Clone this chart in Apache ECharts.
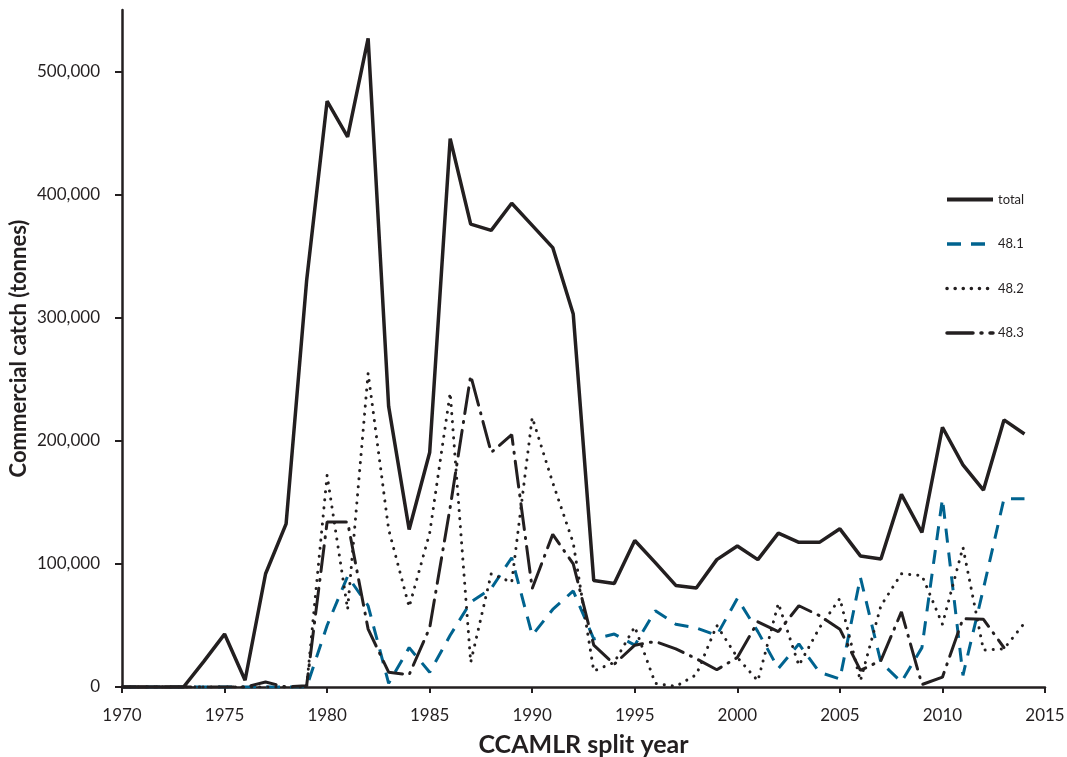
<!DOCTYPE html>
<html lang="en">
<head>
  <meta charset="UTF-8">
  <title>Commercial krill catch by subarea</title>
  <script src="https://cdn.jsdelivr.net/npm/echarts@6/dist/echarts.min.js"></script>
  <style>
    * { padding: 0; margin: 0; }
    html, body { background: #fff; }
  </style>
</head>
<body>
<div id="main" style="width:1067px;height:757px;"></div>
<script>
  // split years 1970 .. 2014
  var years = [];
  for (var y = 1970; y <= 2014; y++) years.push(y);

  var total = [0, 0, 0, 0, 21000, 43000, 5500, 92000, 132500, 330000,
    476000, 447000, 527000, 228000, 128000, 190500, 445500, 376000, 371000, 393000,
    375000, 357000, 303000, 86500, 84000, 119000, 101000, 82500, 80500, 103500,
    114500, 103500, 125000, 117500, 117500, 128500, 106500, 104000, 156500, 125500,
    211000, 180500, 160000, 217000, 205500];

  var sub481 = [0, 0, 0, 0, 0, 0, 0, 0, 0, 0,
    50000, 90000, 66000, 3000, 32000, 12000, 42000, 69000, 80000, 105000,
    42000, 63000, 78000, 39000, 43000, 34000, 62000, 51000, 48000, 42000,
    72000, 45000, 15000, 35000, 12000, 6500, 89000, 20000, 4000, 32000,
    153000, 9500, 80000, 153000, 153000];

  var sub482 = [0, 0, 0, 0, 0, 0, 0, 0, 0, 0,
    172000, 63000, 255000, 128000, 65000, 125000, 239000, 20000, 92000, 85000,
    219000, 166000, 117000, 13000, 20000, 49000, 3000, 500, 10000, 50000,
    24000, 5000, 68000, 17500, 48000, 72000, 5000, 66000, 92000, 90500,
    51000, 113500, 30000, 31000, 52000];

  var sub483 = [0, 0, 0, 0, 0, 0, 0, 4000, 0, 1000,
    134000, 134000, 47000, 12000, 10000, 48000, 146000, 253000, 190500, 205000,
    80000, 124000, 100000, 34000, 18500, 34000, 37000, 31000, 23000, 14000,
    24000, 53000, 45000, 66000, 58000, 47000, 13500, 21500, 61000, 2000,
    8000, 55500, 55000, 32000, null];

  var yTicks = [0, 100000, 200000, 300000, 400000, 500000];
  var seriesNames = ['total', '48.1', '48.2', '48.3'];

  function pairs(vals) {
    return vals.map(function (v, i) { return [years[i], v]; });
  }

  var ink = '#231f20';
  var blue = '#00638f';
  var font = 'Lato, "Open Sans", sans-serif';

  var chart = echarts.init(document.getElementById('main'));
  chart.setOption({
    backgroundColor: '#fff',
    animation: false,
    textStyle: { fontFamily: font },
    grid: { left: 122, right: 22, top: 10, bottom: 70, outerBoundsMode: 'none', containLabel: false },
    legend: {
      orient: 'vertical',
      left: 940,
      top: 188,
      itemWidth: 46,
      itemHeight: 14,
      itemGap: 31.5,
      data: [
        { name: seriesNames[0], lineStyle: { width: 4 } },
        { name: seriesNames[1], lineStyle: { width: 3.5 } },
        { name: seriesNames[2], lineStyle: { width: 3.5 } },
        { name: seriesNames[3], lineStyle: { width: 3.5 } }
      ],
      itemStyle: { opacity: 0 },
      textStyle: { fontFamily: font, fontSize: 13, color: ink }
    },
    xAxis: {
      type: 'value',
      min: 1970,
      max: 2015,
      interval: 5,
      name: 'CCAMLR split year',
      nameLocation: 'middle',
      nameGap: 45,
      nameMoveOverlap: false,
      nameTextStyle: { fontFamily: font, fontSize: 25, fontWeight: 'bold', color: ink },
      splitLine: { show: false },
      axisLine: { lineStyle: { color: ink, width: 2.5 } },
      axisTick: { show: true, length: 6, lineStyle: { color: ink, width: 2 } },
      axisLabel: {
        fontFamily: font, fontSize: 17, color: ink, margin: 20,
        formatter: function (v) { return String(v); }
      }
    },
    yAxis: {
      type: 'value',
      min: 0,
      max: 550000,
      name: 'Commercial catch (tonnes)',
      nameLocation: 'middle',
      nameGap: 92,
      nameMoveOverlap: false,
      nameTextStyle: { fontFamily: font, fontSize: 22, fontWeight: 'bold', color: ink },
      splitLine: { show: false },
      axisLine: { show: true, lineStyle: { color: ink, width: 2.5 } },
      axisTick: { show: true, length: 7, customValues: yTicks, lineStyle: { color: ink, width: 2 } },
      axisLabel: {
        fontFamily: font, fontSize: 17, color: ink, margin: 22,
        customValues: yTicks,
        formatter: function (v) { return v.toLocaleString('en-US'); }
      }
    },
    series: [
      {
        name: 'total', type: 'line', data: pairs(total), symbol: 'none', z: 5,
        lineStyle: { color: ink, width: 3.5 }, itemStyle: { color: ink }
      },
      {
        name: '48.1', type: 'line', data: pairs(sub481), symbol: 'none', z: 3,
        lineStyle: { color: blue, width: 3, type: [14, 10] }, itemStyle: { color: blue }
      },
      {
        name: '48.2', type: 'line', data: pairs(sub482), symbol: 'none', z: 4,
        lineStyle: { color: ink, width: 3, type: [0.1, 8], cap: 'round' }, itemStyle: { color: ink }
      },
      {
        name: '48.3', type: 'line', data: pairs(sub483), symbol: 'none', z: 4,
        lineStyle: { color: ink, width: 3, type: [26, 8, 1, 8], cap: 'round' }, itemStyle: { color: ink }
      }
    ]
  });
</script>
</body>
</html>
